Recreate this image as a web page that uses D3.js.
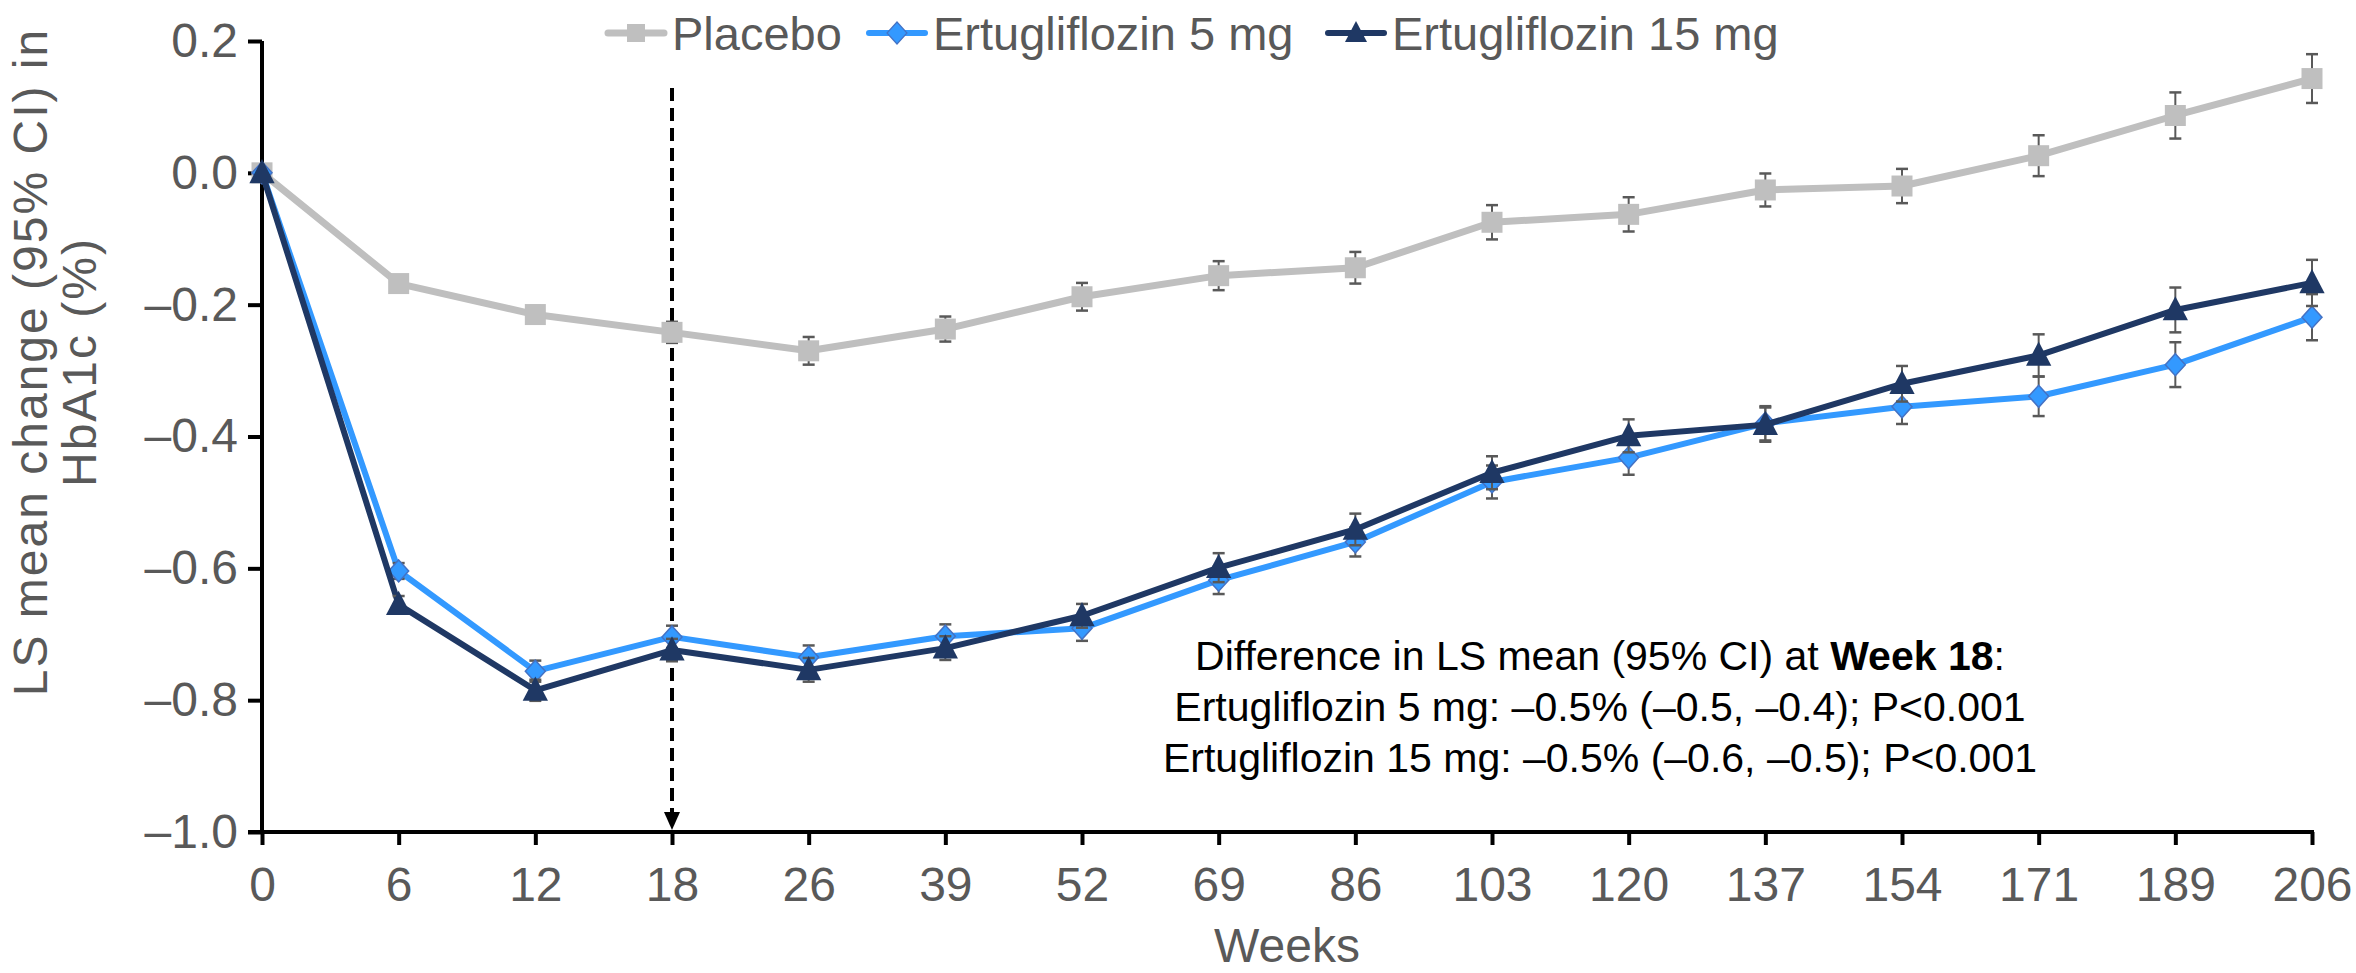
<!DOCTYPE html>
<html>
<head>
<meta charset="utf-8">
<script src="https://cdn.jsdelivr.net/npm/d3@7"></script>
<style>
  html, body { margin: 0; padding: 0; background: #fff; }
  svg { display: block; font-family: "Liberation Sans", Arial, sans-serif; }
</style>
</head>
<body>
<svg id="chart" width="2356" height="973"></svg>
<script>
const weeks = ["0","6","12","18","26","39","52","69","86","103","120","137","154","171","189","206"];
const placebo    = [0, -0.168, -0.215, -0.242, -0.270, -0.237, -0.188, -0.156, -0.144, -0.075, -0.063, -0.026, -0.020, 0.026, 0.087, 0.143];
const placeboErr = [0, 0.010, 0.013, 0.016, 0.021, 0.019, 0.021, 0.022, 0.024, 0.026, 0.026, 0.025, 0.026, 0.031, 0.035, 0.037];
const ertu5      = [0, -0.604, -0.756, -0.704, -0.735, -0.703, -0.691, -0.618, -0.560, -0.469, -0.432, -0.380, -0.355, -0.339, -0.291, -0.219];
const ertu5Err   = [0, 0.012, 0.016, 0.017, 0.018, 0.018, 0.019, 0.021, 0.022, 0.025, 0.026, 0.026, 0.026, 0.030, 0.034, 0.035];
const ertu15     = [0, -0.655, -0.785, -0.724, -0.754, -0.721, -0.672, -0.599, -0.541, -0.455, -0.399, -0.382, -0.320, -0.277, -0.208, -0.167];
const ertu15Err  = [0, 0.013, 0.016, 0.017, 0.018, 0.018, 0.018, 0.022, 0.024, 0.025, 0.025, 0.026, 0.027, 0.032, 0.034, 0.035];
const yTicks = [0.2, 0.0, -0.2, -0.4, -0.6, -0.8, -1.0];
const seriesNames = ["Placebo", "Ertugliflozin 5 mg", "Ertugliflozin 15 mg"];
const annotationLines = [
  ["Difference in LS mean (95% CI) at ", "Week 18", ":"],
  ["Ertugliflozin  5 mg: \u20130.5% (\u20130.5, \u20130.4); P<0.001"],
  ["Ertugliflozin  15 mg: \u20130.5% (\u20130.6, \u20130.5); P<0.001"]
];
const markWeek = "18";

const svg = d3.select("#chart");
const x = d3.scalePoint().domain(weeks).range([262, 2312]);
const y = d3.scaleLinear().domain([-1.0, 0.2]).range([832, 41]);
const gray = "#595959";

const series = [
  { name: seriesNames[0], vals: placebo, err: placeboErr, color: "#BFBFBF", width: 7, shape: "square" },
  { name: seriesNames[1], vals: ertu5, err: ertu5Err, color: "#3399FF", width: 6, shape: "diamond" },
  { name: seriesNames[2], vals: ertu15, err: ertu15Err, color: "#1F3864", width: 6, shape: "triangle" }
];

// axes
const yAxis = svg.append("g").attr("transform", "translate(262,0)")
  .call(d3.axisLeft(y).tickValues(yTicks).tickSize(14).tickPadding(10)
    .tickFormat(d => (d < 0 ? "\u2013" : "") + Math.abs(d).toFixed(1)));
const xAxis = svg.append("g").attr("transform", "translate(0,832)")
  .call(d3.axisBottom(x).tickSize(13).tickPadding(22));
[yAxis, xAxis].forEach(g => {
  g.select(".domain").attr("stroke", "#000").attr("stroke-width", 4);
  g.selectAll(".tick line").attr("stroke", "#000").attr("stroke-width", 4);
  g.selectAll(".tick text").attr("fill", gray).style("font-size", "48px")
    .style("font-family", "'Liberation Sans', Arial, sans-serif");
});
yAxis.select(".domain").attr("d", "M0,41V832");
xAxis.select(".domain").attr("d", `M248,0H${x.range()[1] + 2}`);

// axis titles
svg.append("text").attr("x", x(weeks[0]) + (x(weeks[weeks.length-1]) - x(weeks[0])) / 2).attr("y", 962)
  .attr("text-anchor", "middle").attr("fill", gray).style("font-size", "48px").text("Weeks");
const yt = svg.append("text").attr("transform", "translate(47,362) rotate(-90)")
  .attr("text-anchor", "middle").attr("fill", gray).style("font-size", "48px").style("letter-spacing", "2px");
yt.append("tspan").attr("x", 0).attr("y", 0).text("LS mean change (95% CI) in");
yt.append("tspan").attr("x", 0).attr("y", 49).text("HbA1c (%)");

// week 18 dashed arrow
const xm = x(markWeek);
svg.append("line").attr("x1", xm).attr("x2", xm).attr("y1", 88).attr("y2", 815)
  .attr("stroke", "#000").attr("stroke-width", 4).attr("stroke-dasharray", "13,7");
svg.append("path").attr("d", `M${xm-8},812L${xm+8},812L${xm},830Z`).attr("fill", "#000");

function symbolPath(shape, s) {
  if (shape === "square") return `M${-s/2},${-s/2}h${s}v${s}h${-s}Z`;
  if (shape === "diamond") return `M0,${-s*0.55}L${s*0.5},0L0,${s*0.55}L${-s*0.5},0Z`;
  return `M0,${-s*0.6}L${s*0.55},${s*0.45}L${-s*0.55},${s*0.45}Z`;
}

const line = d3.line().x((d, i) => x(weeks[i])).y(d => y(d));
series.forEach(s => {
  const g = svg.append("g");
  const pts = s.vals.map((v, i) => ({ w: weeks[i], v, e: s.err[i] }));
  g.append("path").datum(s.vals).attr("d", line).attr("fill", "none")
    .attr("stroke", s.color).attr("stroke-width", s.width).attr("stroke-linejoin", "round");
  const eb = g.selectAll(".eb").data(pts.filter(p => p.e > 0)).join("g");
  eb.append("line").attr("x1", p => x(p.w)).attr("x2", p => x(p.w))
    .attr("y1", p => y(p.v + p.e)).attr("y2", p => y(p.v - p.e)).attr("stroke", gray).attr("stroke-width", 2);
  [1, -1].forEach(sg => {
    eb.append("line").attr("x1", p => x(p.w) - 6).attr("x2", p => x(p.w) + 6)
      .attr("y1", p => y(p.v + sg * p.e)).attr("y2", p => y(p.v + sg * p.e))
      .attr("stroke", gray).attr("stroke-width", 2.5);
  });
  const size = s.shape === "square" ? 21 : (s.shape === "diamond" ? 20 : 23);
  g.selectAll(".mk").data(pts).join("path")
    .attr("transform", p => `translate(${x(p.w)},${y(p.v)})`)
    .attr("d", symbolPath(s.shape, size))
    .attr("fill", s.color)
    .attr("stroke", s.shape === "diamond" ? "#4472C4" : "none").attr("stroke-width", 1.5);
});

// legend
const legendX = [608, 869, 1328];
series.forEach((s, i) => {
  const g = svg.append("g").attr("transform", `translate(${legendX[i]},33)`);
  g.append("line").attr("x1", 0).attr("x2", 56).attr("stroke", s.color).attr("stroke-width", s.width)
    .attr("stroke-linecap", "round");
  g.append("path").attr("transform", "translate(28,0)")
    .attr("d", symbolPath(s.shape, s.shape === "square" ? 18 : 20)).attr("fill", s.color)
    .attr("stroke", s.shape === "diamond" ? "#4472C4" : "none").attr("stroke-width", 1.2);
  g.append("text").attr("x", 64).attr("y", 17).attr("fill", gray).style("font-size", "47px").text(s.name);
});

// annotation
const ann = svg.append("text").attr("text-anchor", "middle").attr("fill", "#000").style("font-size", "41px");
annotationLines.forEach((parts, i) => {
  const t = ann.append("tspan").attr("x", 1600).attr("y", 670 + i * 51);
  parts.forEach((p, j) => {
    const sp = j === 0 ? t : ann.append("tspan");
    sp.text(p);
    if (p === "Week 18") sp.style("font-weight", "bold");
  });
});
</script>
</body>
</html>
